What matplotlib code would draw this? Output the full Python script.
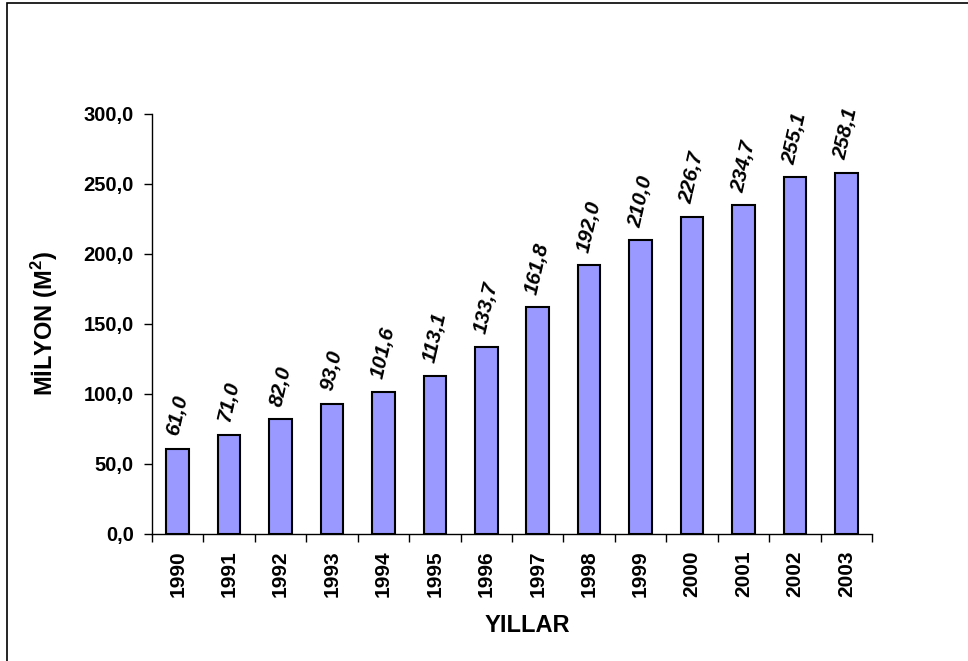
import matplotlib
matplotlib.use("Agg")
import matplotlib.pyplot as plt
from matplotlib.patches import Rectangle

years = ["1990", "1991", "1992", "1993", "1994", "1995", "1996", "1997",
         "1998", "1999", "2000", "2001", "2002", "2003"]
values = [61.0, 71.0, 82.0, 93.0, 101.6, 113.1, 133.7, 161.8,
          192.0, 210.0, 226.7, 234.7, 255.1, 258.1]
yticks = [0, 50, 100, 150, 200, 250, 300]

plt.rcParams['font.family'] = ['Liberation Sans', 'DejaVu Sans']
plt.rcParams['mathtext.fontset'] = 'custom'
plt.rcParams['mathtext.bf'] = 'Liberation Sans:bold'
plt.rcParams['mathtext.rm'] = 'Liberation Sans'

W, H = 968, 661
fig = plt.figure(figsize=(W / 100, H / 100), dpi=100)
ax = fig.add_axes([152 / W, 1 - 534 / H, (872 - 152) / W, (534 - 114) / H])

# outer frame
fig.patches.append(Rectangle((7 / W, -0.01), 1.0, 1 - 3 / H + 0.01,
                             transform=fig.transFigure, fill=False,
                             edgecolor='black', linewidth=1.2))

x = list(range(len(years)))
ax.bar(x, values, width=0.44, color='#9999FF', edgecolor='black', linewidth=1.5, zorder=3)

for xi, v in zip(x, values):
    ax.annotate(f"{v:.1f}".replace('.', ','), (xi, v), xytext=(0, 8),
                textcoords='offset points', rotation=77, ha='center', va='bottom',
                fontsize=15, fontweight='bold', fontstyle='italic')

ax.set_xlim(-0.5, len(years) - 0.5)
ax.set_ylim(0, 300)
ax.set_yticks(yticks)
ax.set_yticklabels([f"{t:.1f}".replace('.', ',') for t in yticks],
                   fontsize=14.5, fontweight='bold')
ax.set_xticks([i + 0.5 for i in range(-1, len(years))], minor=False)
ax.set_xticklabels([])
ax.set_xticks(x, minor=True)
ax.set_xticklabels(years, minor=True, rotation=90, fontsize=15, fontweight='bold')
ax.tick_params(axis='x', which='minor', length=0, pad=12)
ax.tick_params(axis='x', which='major', length=6, width=1, direction='out')
ax.tick_params(axis='y', length=6, width=1, direction='out', pad=7)

for s in ['top', 'right']:
    ax.spines[s].set_visible(False)
ax.spines['left'].set_linewidth(1)
ax.spines['bottom'].set_linewidth(1)

fig.text(527 / W, 1 - 625 / H, "YILLAR", ha='center', va='center',
         fontsize=17, fontweight='bold')
fig.text(45 / W, 1 - 324 / H, "MİLYON (M$^\\mathbf{2}$)", ha='center', va='center',
         rotation=90, fontsize=17, fontweight='bold')

fig.savefig("out.png", dpi=100)
